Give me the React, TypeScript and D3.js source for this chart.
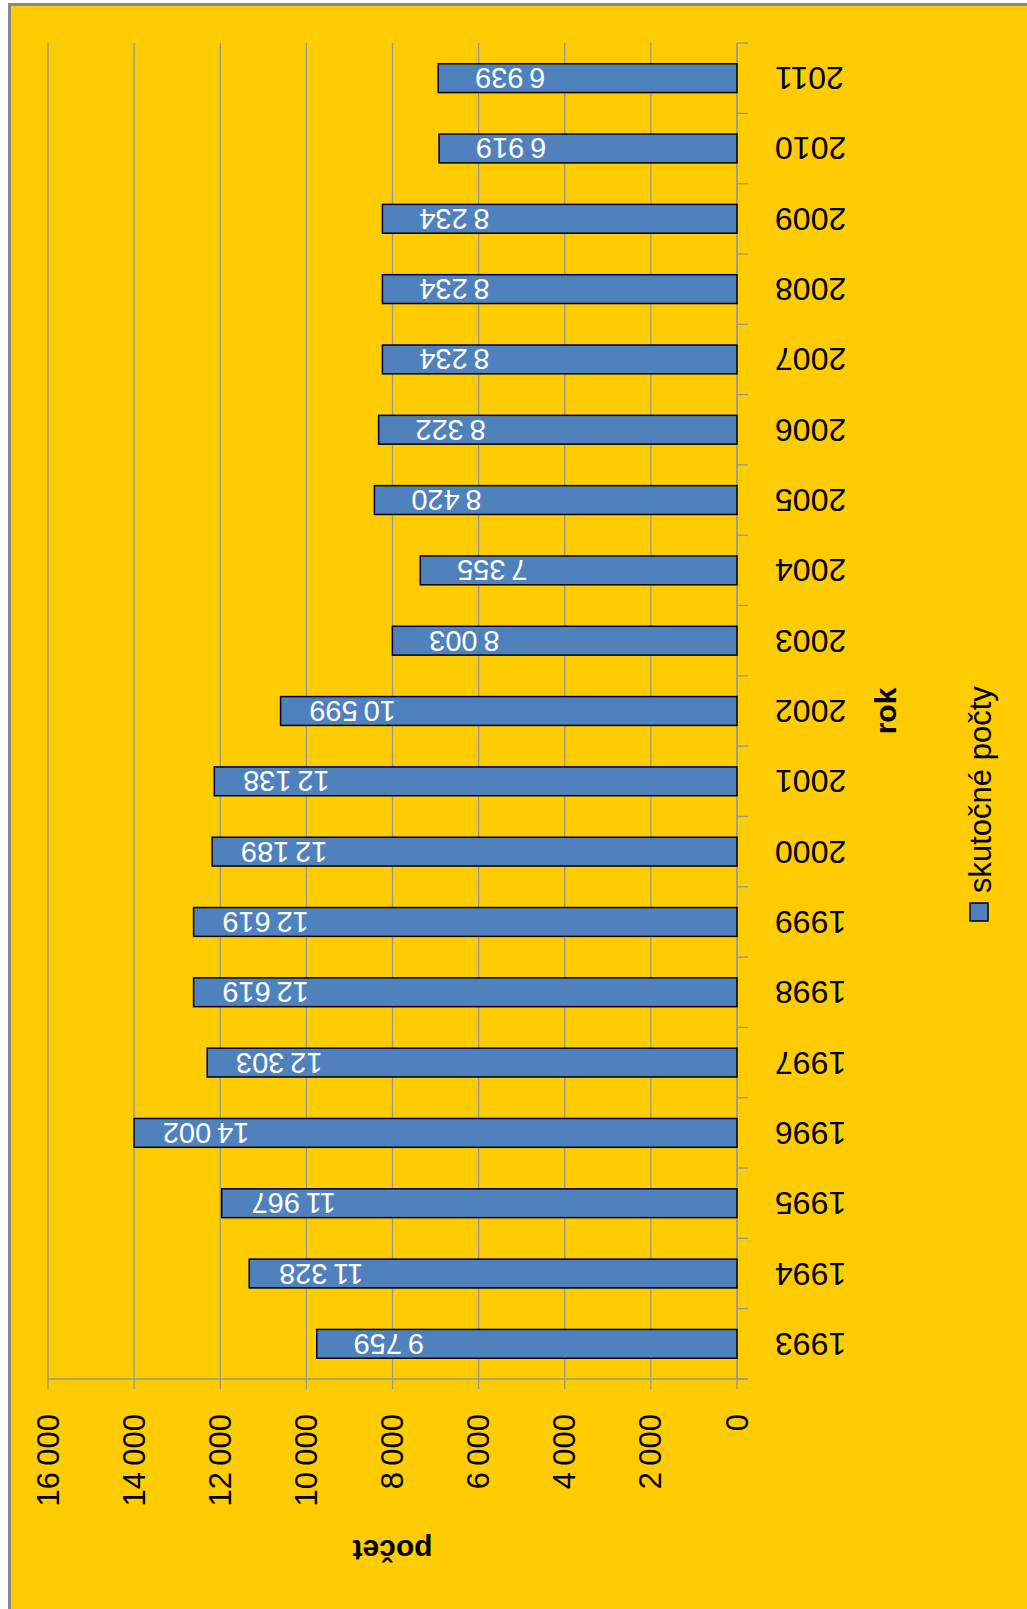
import * as d3 from 'd3';

const years = ['1993', '1994', '1995', '1996', '1997', '1998', '1999', '2000', '2001', '2002',
  '2003', '2004', '2005', '2006', '2007', '2008', '2009', '2010', '2011'];
const counts = [9759, 11328, 11967, 14002, 12303, 12619, 12619, 12189, 12138, 10599,
  8003, 7355, 8420, 8322, 8234, 8234, 8234, 6919, 6939];
const valueTicks = [0, 2000, 4000, 6000, 8000, 10000, 12000, 14000, 16000];
const seriesName = 'skutočné počty';
const catTitle = 'rok';
const valTitle = 'počet';

const W = 1027;
const H = 1609;
const font = '"Liberation Sans", Arial, sans-serif';
const barColor = '#4F81BD';
const gridColor = '#979797';

const fmt = d3.formatLocale({ decimal: ',', thousands: '\u202f', grouping: [3], currency: ['', ''] }).format(',d');

export default function App() {
  // value axis runs right to left, categories bottom to top
  const x = d3.scaleLinear().domain([0, 16000]).range([737, 48]);
  const y = d3.scaleBand().domain([...years].reverse()).range([43, 1379])
    .paddingInner(0.59).paddingOuter(0.295);
  const [top, bottom] = y.range();
  const step = y.step();
  const bounds = d3.range(years.length + 1).map(i => top + i * step);
  const axisY = bottom;
  const axisX = x(0);

  return (
    <svg width={W} height={H} style={{ position: 'absolute', left: 0, top: 0 }} fontFamily={font}>
      <rect x={0} y={0} width={W} height={H} fill="#fff" />
      <rect x={9.5} y={4.5} width={W + 50} height={H + 50} fill="#FFCC00" stroke="#888" strokeWidth={3} />

      {valueTicks.map(t => (
        <g key={t}>
          <line x1={x(t)} x2={x(t)} y1={top} y2={axisY + 10} stroke={gridColor} strokeWidth={1.3} />
          <text transform={`translate(${x(t)},1414) rotate(-90)`} textAnchor="end" dominantBaseline="central"
            fontSize={31} fill="#000">{fmt(t)}</text>
        </g>
      ))}
      <line x1={x(16000)} x2={axisX + 11} y1={axisY} y2={axisY} stroke={gridColor} strokeWidth={1.3} />
      <line x1={axisX} x2={axisX} y1={top} y2={axisY} stroke={gridColor} strokeWidth={1.3} />
      {bounds.map((b, i) => (
        <line key={i} x1={axisX} x2={axisX + 11} y1={b} y2={b} stroke={gridColor} strokeWidth={1.3} />
      ))}

      {years.map((yr, i) => {
        const v = counts[i];
        const by = y(yr)!;
        const cy = by + y.bandwidth() / 2;
        return (
          <g key={yr}>
            <rect x={x(v)} y={by} width={x(0) - x(v)} height={y.bandwidth()} fill={barColor}
              stroke="#000" strokeWidth={1.5} />
            <text transform={`translate(${x(v) + 72},${cy}) rotate(180)`} textAnchor="middle"
              dominantBaseline="central" fontSize={29} fill="#fff">{fmt(v)}</text>
            <text transform={`translate(775,${cy}) rotate(180)`} textAnchor="end"
              dominantBaseline="central" fontSize={32} fill="#000">{yr}</text>
          </g>
        );
      })}

      <text transform={`translate(${(x(0) + x(16000)) / 2},1550) rotate(180)`} textAnchor="middle"
        dominantBaseline="central" fontSize={30} fontWeight="bold" fill="#000">{valTitle}</text>
      <text transform={`translate(885,${(top + bottom) / 2}) rotate(-90)`} textAnchor="middle"
        dominantBaseline="central" fontSize={30} fontWeight="bold" fill="#000">{catTitle}</text>

      <rect x={970} y={903} width={18} height={18} fill={barColor} stroke="#000" strokeWidth={1.5} />
      <text transform="translate(980,893) rotate(-90)" textAnchor="start" dominantBaseline="central"
        fontSize={31} fill="#000">{seriesName}</text>
    </svg>
  );
}
